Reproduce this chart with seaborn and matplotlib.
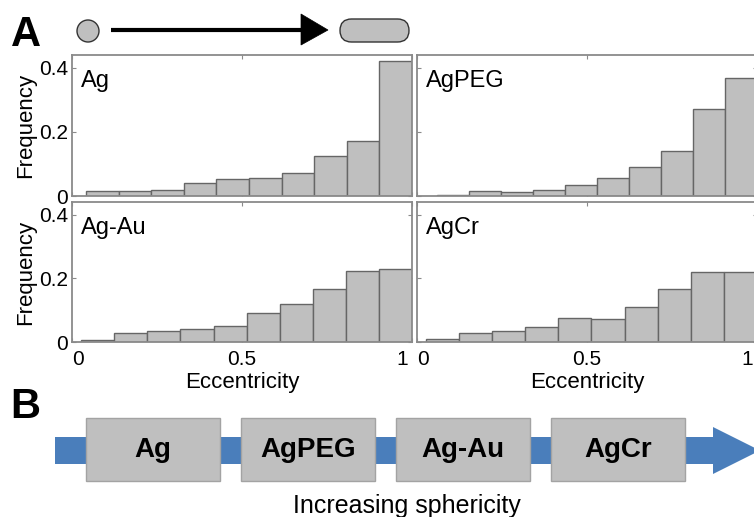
import numpy as np
import pandas as pd
import matplotlib
matplotlib.use("Agg")
import matplotlib.pyplot as plt
import matplotlib.transforms as mtransforms
from matplotlib.patches import Circle, Polygon, FancyBboxPatch, Rectangle
import seaborn as sns

# Eccentricity histograms (relative frequency per bin, 10 bins each)
samples = ["Ag", "AgPEG", "Ag-Au", "AgCr"]
ag_freq = [0.016, 0.016, 0.020, 0.041, 0.053, 0.057, 0.073, 0.126, 0.171, 0.421]
agpeg_freq = [0.004, 0.015, 0.012, 0.019, 0.033, 0.056, 0.092, 0.141, 0.271, 0.367]
agau_freq = [0.007, 0.028, 0.036, 0.041, 0.049, 0.091, 0.120, 0.168, 0.223, 0.231]
agcr_freq = [0.011, 0.028, 0.036, 0.047, 0.075, 0.073, 0.111, 0.166, 0.220, 0.220]
# range of eccentricity covered by the bins of each sample
ecc_min = [0.041, 0.060, 0.027, 0.026]
ecc_max = [1.0, 1.0, 1.0, 1.0]

x_ticks = [0, 0.5, 1]
x_tick_labels = ["0", "0.5", "1"]
y_ticks = [0, 0.2, 0.4]
y_tick_labels = ["0", "0.2", "0.4"]

# ordering of the samples from most elongated to most spherical
sphericity_order = ["Ag", "AgPEG", "Ag-Au", "AgCr"]

BAR = "#bfbfbf"
BAR_EDGE = "#666666"
FRAME = "#8a8a8a"
BLUE = "#4a7ebb"

sns.set_style("white")
plt.rcParams["font.family"] = ["Liberation Sans", "DejaVu Sans"]
plt.rcParams["text.color"] = "black"
plt.rcParams["axes.labelcolor"] = "black"
plt.rcParams["xtick.labelcolor"] = "black"
plt.rcParams["ytick.labelcolor"] = "black"

W, H = 754, 517
fig = plt.figure(figsize=(W / 100, H / 100), dpi=100)

# full-figure canvas in pixel units for the schematic parts
canvas = fig.add_axes([0, 0, 1, 1], zorder=0)
canvas.set_xlim(0, W)
canvas.set_ylim(H, 0)
canvas.axis("off")

def px_axes(left, top, right, bottom):
    return fig.add_axes([left / W, 1 - bottom / H, (right - left) / W, (bottom - top) / H], zorder=1)

ax_tl = px_axes(72, 55, 412, 196)
ax_tr = px_axes(417, 55, 757, 196)
ax_bl = px_axes(72, 202, 412, 342)
ax_br = px_axes(417, 202, 757, 342)
axes = [ax_tl, ax_tr, ax_bl, ax_br]
freqs = [ag_freq, agpeg_freq, agau_freq, agcr_freq]

# nudge for the last eccentricity tick label so it stays clear of its neighbour
nudge_left = mtransforms.ScaledTranslation(-4 / 100, 0, fig.dpi_scale_trans)

for i, (ax, name, freq, lo, hi) in enumerate(zip(axes, samples, freqs, ecc_min, ecc_max)):
    n_bins = len(freq)
    edges = np.linspace(lo, hi, n_bins + 1)
    centers = (edges[:-1] + edges[1:]) / 2
    df = pd.DataFrame({"Eccentricity": centers, "Frequency": freq})
    sns.histplot(data=df, x="Eccentricity", weights="Frequency", bins=n_bins,
                 binrange=(lo, hi), ax=ax, color=BAR, edgecolor=BAR_EDGE,
                 linewidth=1.0, alpha=1.0)
    ax.set_xlim(0, 1)
    ax.set_ylim(0, 0.44)
    ax.set_xticks(x_ticks)
    ax.set_yticks(y_ticks)
    ax.tick_params(direction="in", length=3, width=0.8, color=FRAME,
                   top=True, right=True, bottom=True, left=True,
                   labelsize=15, labelcolor="black")
    ax.tick_params(axis="x", pad=6)
    ax.tick_params(axis="y", pad=3)
    for sp in ax.spines.values():
        sp.set_color(FRAME)
        sp.set_linewidth(1.3)
    top_row = i < 2
    left_col = i % 2 == 0
    if top_row:
        ax.set_xticklabels([])
        ax.set_xlabel("")
    else:
        labels = ax.set_xticklabels(x_tick_labels)
        labels[0].set_ha("left")
        labels[-1].set_ha("right")
        labels[-1].set_transform(labels[-1].get_transform() + nudge_left)
        ax.set_xlabel("Eccentricity", fontsize=16, labelpad=2)
    if left_col:
        ax.set_yticklabels(y_tick_labels)
        ax.set_ylabel("Frequency", fontsize=16, labelpad=2)
    else:
        ax.set_yticklabels([])
        ax.set_ylabel("")
    ax.text(0.025, 0.895, name, transform=ax.transAxes, fontsize=17,
            ha="left", va="top")

# panel letters
canvas.text(11, 46, "A", fontsize=30, fontweight="bold", ha="left", va="baseline")
canvas.text(10, 418, "B", fontsize=30, fontweight="bold", ha="left", va="baseline")

# sphere -> elongated particle schematic
canvas.add_patch(Circle((88, 31), 11, facecolor=BAR, edgecolor="#333333", linewidth=1.0))
canvas.plot([111, 303], [30, 30], color="black", linewidth=3.0, solid_capstyle="butt")
canvas.add_patch(Polygon([[301, 14], [328, 30], [301, 45]], closed=True,
                         facecolor="black", edgecolor="black", linewidth=0.5))
canvas.add_patch(FancyBboxPatch((340, 19), 69, 23,
                                boxstyle="round,pad=0,rounding_size=11.5",
                                mutation_aspect=1, facecolor=BAR,
                                edgecolor="#333333", linewidth=1.0))

# increasing sphericity arrow
canvas.add_patch(Rectangle((55, 437), 660, 27, facecolor=BLUE, edgecolor="none"))
canvas.add_patch(Polygon([[713, 427], [760, 450.5], [713, 474]], closed=True,
                         facecolor=BLUE, edgecolor="none"))
box_left0, box_step, box_w, box_top, box_h = 86, 155, 134, 418, 63
for k, name in enumerate(sphericity_order):
    x0 = box_left0 + k * box_step
    canvas.add_patch(Rectangle((x0, box_top), box_w, box_h, facecolor=BAR,
                               edgecolor="#a3a3a3", linewidth=1.0))
    canvas.text(x0 + box_w / 2, 457, name, fontsize=20, fontweight="bold",
                ha="center", va="baseline")
canvas.text(407, 513, "Increasing sphericity", fontsize=18, ha="center", va="baseline")

fig.savefig("out.png", dpi=100)
